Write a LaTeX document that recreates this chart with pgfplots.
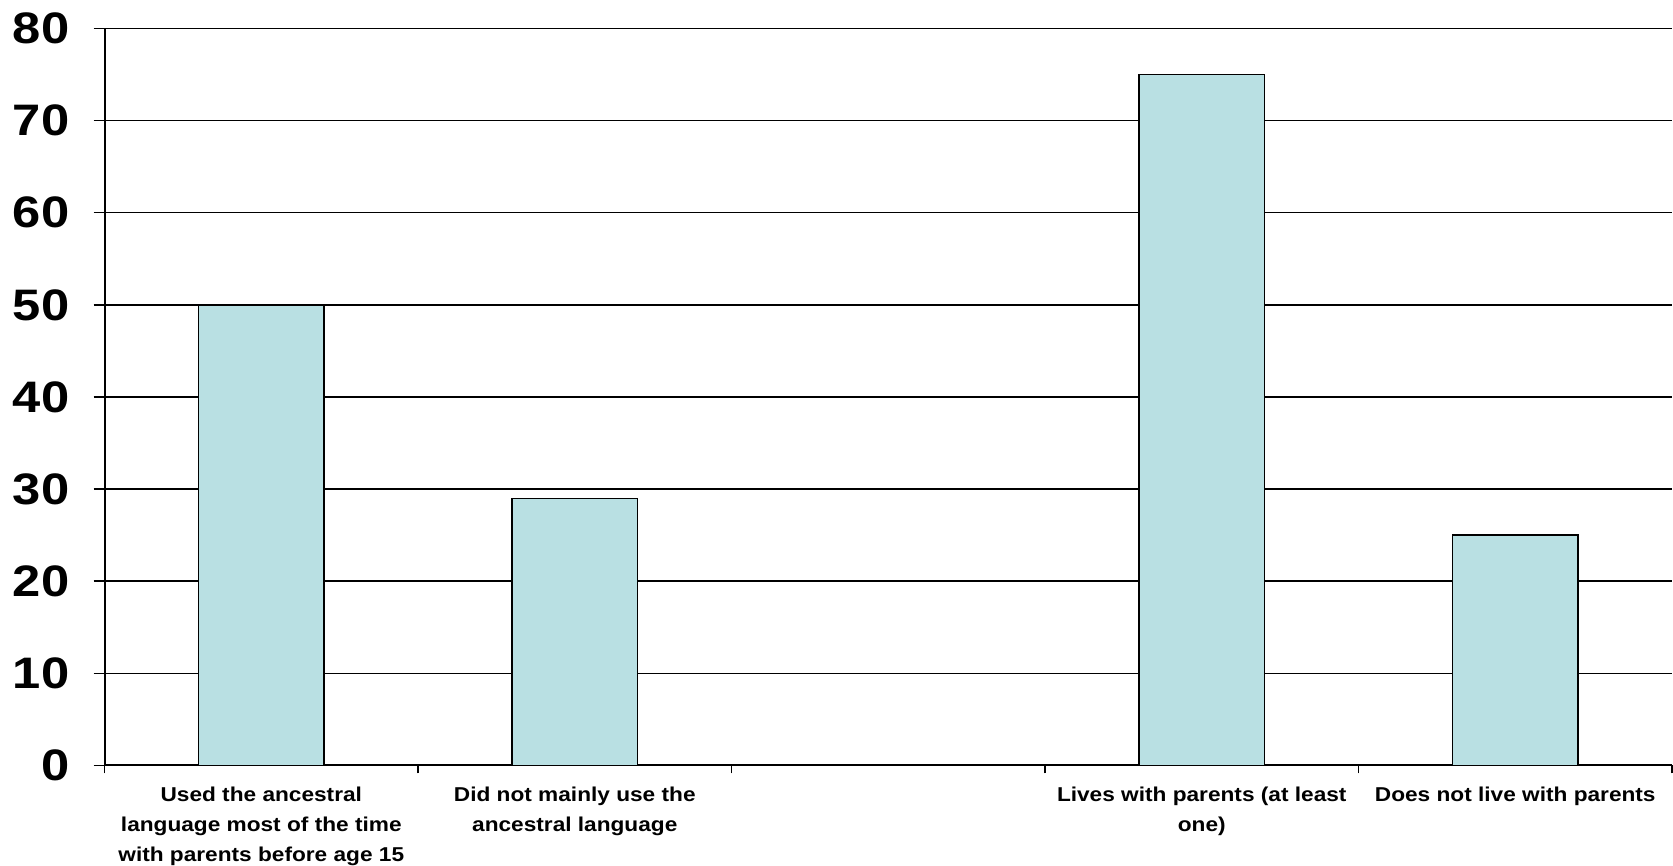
\documentclass[border=0pt]{standalone}
\usepackage{pgfplots}
\pgfplotsset{compat=1.18}
\usepackage{fontspec}
\setmainfont{Liberation Sans}
\definecolor{barfill}{RGB}{185,224,227}

\begin{document}
\begin{tikzpicture}
\begin{axis}[
  scale only axis,
  width=782pt, height=367.5pt,
  xmin=-0.5, xmax=4.5,
  ymin=0, ymax=80,
  axis x line=bottom, axis y line=left,
  axis line style={-, line width=1pt},
  ytick={0,10,...,80},
  ymajorgrids,
  grid style={black, line width=0.65pt},
  y tick style={black, line width=0.65pt},
  major tick length=5.5pt,
  tick align=outside,
  xtick={0,1,2,3,4},
  x tick style={draw=none},
  minor xtick={-0.5,0.5,...,4.5},
  minor x tick style={black, line width=0.65pt, draw=black},
  minor tick length=4pt,
  xticklabels={
    {Used the ancestral\\language most of the time\\with parents before age 15},
    {Did not mainly use the\\ancestral language},
    {},
    {Lives with parents (at least\\one)},
    {Does not live with parents}},
  xticklabel style={font=\bfseries\fontsize{10}{15}\selectfont, align=center,
    xscale=1.13, inner xsep=1pt, inner ysep=0pt, yshift=-5pt},
  yticklabel style={font=\bfseries\fontsize{22}{24}\selectfont, xscale=1.15,
    inner xsep=5.6pt, inner ysep=6.5pt, xshift=-4.7pt},
  /pgf/number format/assume math mode=true,
  ybar, bar width=0.4,
  clip=false,
]
\addplot[fill=barfill, draw=black, line width=0.65pt] coordinates {
  (0,50) (1,29) (3,75) (4,25)
};
\end{axis}
\end{tikzpicture}
\end{document}
